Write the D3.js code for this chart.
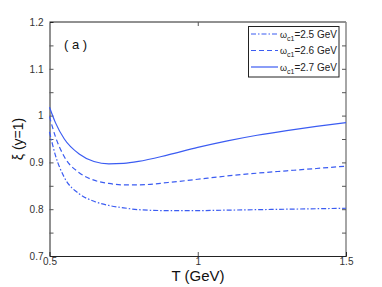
<!DOCTYPE html>
<html>
<head>
<meta charset="utf-8">
<script src="https://cdn.jsdelivr.net/npm/d3@7"></script>
<style>
  body { margin: 0; background: #fff; }
  svg { font-family: "Liberation Sans", Arial, sans-serif; }
</style>
</head>
<body>
<svg id="chart" width="382" height="287"></svg>
<script>
// T values (GeV) sampled along the curves
const temps = [0.5, 0.52, 0.55, 0.6, 0.65, 0.7, 0.75, 0.8, 0.9, 1.0, 1.1, 1.2, 1.3, 1.4, 1.5];
const xi25 = [0.965, 0.915, 0.868, 0.833, 0.817, 0.808, 0.803, 0.799, 0.797, 0.797, 0.798, 0.799, 0.800, 0.801, 0.802];
const xi26 = [0.998, 0.955, 0.912, 0.878, 0.862, 0.855, 0.852, 0.852, 0.857, 0.864, 0.871, 0.877, 0.882, 0.887, 0.892];
const xi27 = [1.018, 0.985, 0.950, 0.918, 0.902, 0.897, 0.898, 0.902, 0.916, 0.932, 0.946, 0.958, 0.968, 0.977, 0.985];
const legendVals = ['2.5', '2.6', '2.7'];
const xTicks = [0.5, 1, 1.5];
const yTicks = [0.7, 0.8, 0.9, 1, 1.1, 1.2];

const svg = d3.select('#chart');
const mLeft = 49.5, mRight = 346, mTop = 22, mBottom = 256;

const x = d3.scaleLinear().domain([0.5, 1.5]).range([mLeft, mRight]);
const y = d3.scaleLinear().domain([0.7, 1.2]).range([mBottom, mTop]);

const blue = '#3b5cf2';

// frame
svg.append('line').attr('x1', mLeft).attr('x2', mRight).attr('y1', mTop).attr('y2', mTop).attr('stroke', '#222');
svg.append('line').attr('x1', mRight).attr('x2', mRight).attr('y1', mTop).attr('y2', mBottom).attr('stroke', '#888').attr('stroke-width', 1.5);

// axes
const xAxis = d3.axisBottom(x).tickValues(xTicks).tickSize(-4).tickPadding(2).tickFormat(d3.format('~g'));
const gx = svg.append('g').attr('transform', `translate(0,${mBottom})`).call(xAxis);
const yAxis = d3.axisLeft(y).tickValues(d3.range(0.7, 1.2001, 0.05)).tickSize(-4).tickPadding(6)
  .tickFormat(d => yTicks.some(t => Math.abs(t - d) < 1e-6) ? d3.format('~g')(d) : '');
const gy = svg.append('g').attr('transform', `translate(${mLeft},0)`).call(yAxis);
[gx, gy].forEach(g => {
  g.select('.domain').attr('stroke', '#222');
  g.selectAll('.tick line').attr('stroke', '#555');
  g.selectAll('.tick text').attr('fill', '#333').style('font-size', '10px')
    .style('font-family', '"Liberation Sans", Arial, sans-serif');
});
gy.selectAll('.tick').filter(d => Math.abs(d - 0.7) < 1e-6 || Math.abs(d - 1.2) < 1e-6).select('line').remove();
gx.selectAll('.tick').filter(d => d !== 1).select('line').remove();

// right and top ticks
svg.append('g').attr('transform', `translate(${mRight},0)`)
  .call(d3.axisRight(y).tickValues(d3.range(0.75, 1.2, 0.05)).tickSize(-4).tickFormat(''))
  .call(g => g.select('.domain').remove())
  .call(g => g.selectAll('.tick line').attr('stroke', '#555'));
svg.append('g').attr('transform', `translate(0,${mTop})`)
  .call(d3.axisTop(x).tickValues([1]).tickSize(-4).tickFormat(''))
  .call(g => g.select('.domain').remove())
  .call(g => g.selectAll('.tick line').attr('stroke', '#555'));

// curves
const series = [
  { vals: xi25, dash: '5,2,1.5,2' },
  { vals: xi26, dash: '5,3' },
  { vals: xi27, dash: null }
];
const line = d3.line().x((d, i) => x(temps[i])).y(d => y(d)).curve(d3.curveMonotoneX);
series.forEach(s => {
  svg.append('path').datum(s.vals).attr('d', line)
    .attr('fill', 'none').attr('stroke', blue).attr('stroke-width', 1.2)
    .attr('stroke-dasharray', s.dash);
});

// labels
svg.append('text').attr('x', 198).attr('y', 281).attr('text-anchor', 'middle')
  .style('font-size', '15px').attr('fill', '#111').text('T (GeV)');
svg.append('text').attr('transform', 'translate(23,139) rotate(-90)').attr('text-anchor', 'middle')
  .style('font-size', '14px').attr('fill', '#111').text('ξ (y=1)');
svg.append('text').attr('x', 64).attr('y', 49).style('font-size', '13px').attr('fill', '#111').text('( a )');

// legend
svg.append('rect').attr('x', 248.5).attr('y', 26.5).attr('width', 90.5).attr('height', 50.5)
  .attr('fill', '#fff').attr('stroke', '#222');
legendVals.forEach((v, i) => {
  const ly = 34 + i * 16.5;
  svg.append('line').attr('x1', 251).attr('x2', 278).attr('y1', ly).attr('y2', ly)
    .attr('stroke', blue).attr('stroke-width', 1.2).attr('stroke-dasharray', series[i].dash);
  const t = svg.append('text').attr('x', 280).attr('y', ly + 3.5).style('font-size', '10px').attr('fill', '#222');
  t.append('tspan').style('font-size', '9px').text('ω');
  t.append('tspan').attr('dy', 3).style('font-size', '7px').text('c1');
  t.append('tspan').attr('dy', -3).text('=' + v + ' GeV');
});
</script>
</body>
</html>
